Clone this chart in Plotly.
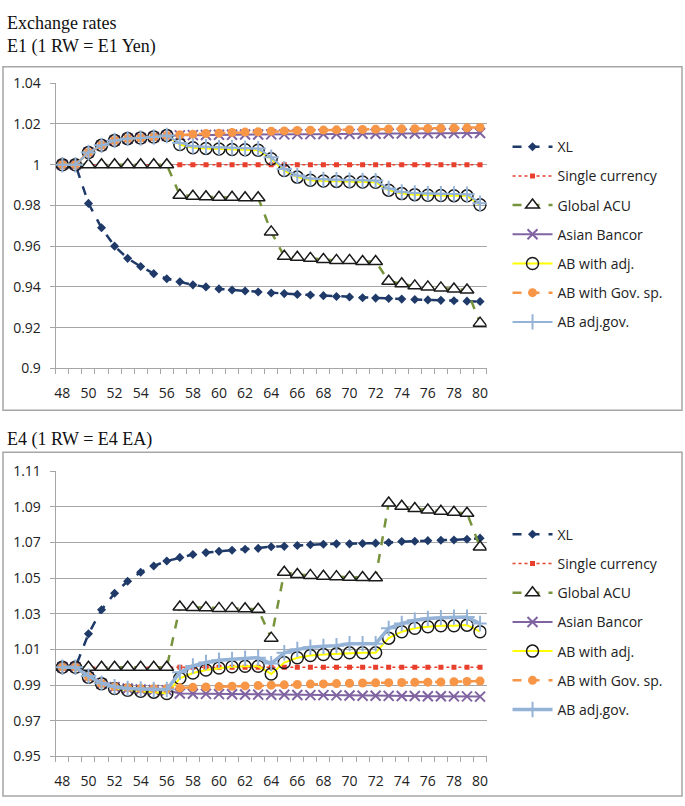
import plotly.graph_objects as go

years = list(range(48, 81))

# ---------- E1 (1 RW = E1 Yen) ----------
e1_xl = [1.0, 1.0, 0.981, 0.969, 0.960, 0.954, 0.950, 0.9465, 0.944, 0.9425, 0.941, 0.940, 0.939,
         0.9385, 0.938, 0.9375, 0.937, 0.9367, 0.9363, 0.936, 0.9357, 0.9353, 0.935, 0.9347, 0.9345,
         0.9343, 0.934, 0.9338, 0.9336, 0.9334, 0.9332, 0.933, 0.9328]
e1_single = [1.0] * 33
e1_acu = [1.0, 1.0, 1.0, 1.0, 1.0, 1.0, 1.0, 1.0, 1.0, 0.985, 0.9845, 0.9843, 0.984, 0.984, 0.9838,
          0.9838, 0.967, 0.955, 0.9545, 0.954, 0.9535, 0.953, 0.953, 0.9525, 0.9525, 0.9428, 0.9415,
          0.9405, 0.940, 0.9395, 0.939, 0.9385, 0.9222]
e1_bancor = [1.0, 1.0, 1.006, 1.0095, 1.0119, 1.0128, 1.0131, 1.0136, 1.0142, 1.0144, 1.0145,
             1.0146, 1.0147, 1.0147, 1.0148, 1.0148, 1.0149, 1.0149, 1.015, 1.015, 1.0151, 1.0151,
             1.0151, 1.0152, 1.0152, 1.0153, 1.0153, 1.0153, 1.0154, 1.0154, 1.0155, 1.0155, 1.0156]
e1_adj = [1.0, 1.0, 1.006, 1.0095, 1.0119, 1.0128, 1.0131, 1.0136, 1.0143, 1.0099, 1.0083, 1.008,
          1.0077, 1.0075, 1.0073, 1.0071, 1.0029, 0.9971, 0.9939, 0.9924, 0.992, 0.9918, 0.9916,
          0.9915, 0.9914, 0.9875, 0.9858, 0.9853, 0.985, 0.9849, 0.9848, 0.9847, 0.9803]
e1_gov = [1.0, 1.0, 1.006, 1.0095, 1.0119, 1.0128, 1.0131, 1.0136, 1.0143, 1.0147, 1.015, 1.0153,
          1.0155, 1.0158, 1.016, 1.0162, 1.0164, 1.0166, 1.0168, 1.0169, 1.017, 1.0171, 1.0172,
          1.0173, 1.0174, 1.0175, 1.0176, 1.0177, 1.0178, 1.0179, 1.018, 1.0181, 1.0183]
e1_adjgov = [1.0, 1.0, 1.006, 1.0095, 1.0119, 1.0128, 1.0131, 1.0136, 1.0143, 1.0107, 1.0091,
             1.0088, 1.0085, 1.0083, 1.0081, 1.0079, 1.0037, 0.9979, 0.9947, 0.9932, 0.9928,
             0.9926, 0.9924, 0.9923, 0.9922, 0.9883, 0.9866, 0.9861, 0.9858, 0.9857, 0.9856,
             0.9855, 0.9811]

# ---------- E4 (1 RW = E4 EA) ----------
e4_xl = [1.0, 1.0, 1.0187, 1.0322, 1.0415, 1.0482, 1.0533, 1.0568, 1.0596, 1.0616, 1.0632, 1.0643,
         1.065, 1.0656, 1.0662, 1.0667, 1.0676, 1.0678, 1.0683, 1.0687, 1.069, 1.0692, 1.0692,
         1.0694, 1.0696, 1.07, 1.0705, 1.0707, 1.071, 1.0712, 1.0714, 1.0718, 1.0724]
e4_single = [1.0] * 33
e4_acu = [1.0, 1.0, 1.0, 1.0, 1.0, 1.0, 1.0, 1.0, 1.0, 1.0338, 1.0335, 1.0333, 1.033, 1.033, 1.0328,
          1.0325, 1.0163, 1.0533, 1.052, 1.0515, 1.051, 1.0508, 1.0505, 1.0503, 1.0502, 1.0921,
          1.0903, 1.089, 1.0882, 1.0875, 1.0869, 1.0864, 1.0674]
e4_bancor = [1.0, 1.0, 0.9945, 0.9907, 0.9888, 0.988, 0.9875, 0.9872, 0.987, 0.9852, 0.9851,
             0.985, 0.9849, 0.9848, 0.9847, 0.9846, 0.9845, 0.9845, 0.9844, 0.9843, 0.9843,
             0.9842, 0.9841, 0.984, 0.984, 0.9839, 0.9838, 0.9838, 0.9837, 0.9837, 0.9836,
             0.9836, 0.9835]
e4_adj = [1.0, 1.0, 0.9944, 0.9907, 0.988, 0.9871, 0.9865, 0.986, 0.9852, 0.9938, 0.9967, 0.9984,
          0.9995, 1.0002, 1.0005, 1.0005, 0.9962, 1.0026, 1.0053, 1.0066, 1.0071, 1.0075, 1.0081,
          1.0081, 1.0081, 1.0163, 1.0199, 1.0218, 1.0227, 1.0232, 1.0232, 1.0236, 1.0199]
e4_gov = [1.0, 1.0, 0.9945, 0.9908, 0.989, 0.9885, 0.988, 0.988, 0.988, 0.9884, 0.9887, 0.9889,
          0.9891, 0.9893, 0.9895, 0.9897, 0.9899, 0.9901, 0.9903, 0.9905, 0.9906, 0.9908, 0.991,
          0.9911, 0.9912, 0.9913, 0.9914, 0.9915, 0.9916, 0.9917, 0.9918, 0.992, 0.9922]
e4_adjgov = [1.0, 1.0, 0.995, 0.991, 0.989, 0.988, 0.9878, 0.9875, 0.9875, 0.9971, 1.0007, 1.0026,
             1.0039, 1.0044, 1.005, 1.0053, 1.002, 1.0081, 1.01, 1.0112, 1.0117, 1.0121, 1.0132,
             1.0132, 1.0132, 1.0218, 1.0245, 1.0263, 1.0273, 1.0278, 1.0281, 1.0281, 1.0245]

x_ticks = list(range(48, 81, 2))
e1_yticks = [0.9, 0.92, 0.94, 0.96, 0.98, 1.0, 1.02, 1.04]
e1_ylabels = ["0.9", "0.92", "0.94", "0.96", "0.98", "1", "1.02", "1.04"]
e4_yticks = [0.95, 0.97, 0.99, 1.01, 1.03, 1.05, 1.07, 1.09, 1.11]
e4_ylabels = ["0.95", "0.97", "0.99", "1.01", "1.03", "1.05", "1.07", "1.09", "1.11"]

names = ["XL", "Single currency", "Global ACU", "Asian Bancor", "AB with adj.",
         "AB with Gov. sp.", "AB adj.gov."]

FONT = "Open Sans"
GRID = "#A6A6A6"

styles = [
    dict(line=dict(color="#1F3A68", width=2.5, dash="dash"),
         marker=dict(symbol="diamond", size=7, color="#1F3A68")),
    dict(line=dict(color="#E8402C", width=1.5, dash="dot"),
         marker=dict(symbol="square", size=5, color="#E8402C")),
    dict(line=dict(color="#77933C", width=2.5, dash="dash"),
         marker=dict(symbol="triangle-up", size=12, color="white",
                     line=dict(color="#1a1a1a", width=1.5))),
    dict(line=dict(color="#8064A2", width=2),
         marker=dict(symbol="x-thin", size=10, color="#8064A2",
                     line=dict(color="#8064A2", width=2))),
    dict(line=dict(color="#FFFF00", width=2),
         marker=dict(symbol="circle-open", size=12, color="#1a1a1a",
                     line=dict(color="#1a1a1a", width=1.5))),
    dict(line=dict(color="#F79646", width=2.5, dash="dash"),
         marker=dict(symbol="circle", size=9, color="#F79646")),
    dict(line=dict(color="#95B3D7", width=2),
         marker=dict(symbol="cross-thin", size=11, color="#95B3D7",
                     line=dict(color="#95B3D7", width=2))),
]

fig = go.Figure()

top_series = [e1_xl, e1_single, e1_acu, e1_bancor, e1_adj, e1_gov, e1_adjgov]
bot_series = [e4_xl, e4_single, e4_acu, e4_bancor, e4_adj, e4_gov, e4_adjgov]

for i, (nm, ys) in enumerate(zip(names, top_series)):
    st = styles[i]
    fig.add_trace(go.Scatter(x=years, y=ys, name=nm, mode="lines+markers",
                             line=st["line"], marker=st["marker"],
                             xaxis="x", yaxis="y", legend="legend",
                             legendgroup="t%d" % i))

for i, (nm, ys) in enumerate(zip(names, bot_series)):
    st = styles[i]
    line = dict(st["line"])
    if i == 6:
        line = dict(line, width=3.5)
    fig.add_trace(go.Scatter(x=years, y=ys, name=nm, mode="lines+markers",
                             line=line, marker=st["marker"],
                             xaxis="x2", yaxis="y2", legend="legend2",
                             legendgroup="b%d" % i))

W, H = 685, 806
x0, x1 = 55 / W, 487 / W

def xaxis_cfg(anchor):
    return dict(domain=[x0, x1], anchor=anchor, range=[47.5, 80.5],
                tickvals=x_ticks, ticktext=[str(v) for v in x_ticks],
                ticks="", showgrid=False, zeroline=False, ticklabelstandoff=12,
                showline=True, linecolor=GRID, linewidth=1.3,
                tickfont=dict(family=FONT, size=14, color="#222"),
                minor=dict(ticks="outside", ticklen=5, tickcolor=GRID,
                           tick0=47.5, dtick=1, showgrid=False))

def yaxis_cfg(anchor, dom, rng, tv, tt):
    return dict(domain=dom, anchor=anchor, range=rng, tickvals=tv, ticktext=tt,
                ticks="outside", ticklen=5, tickcolor=GRID, ticklabelstandoff=6,
                showgrid=True, gridcolor=GRID, gridwidth=1.3, zeroline=False,
                showline=True, linecolor=GRID, linewidth=1.3,
                tickfont=dict(family=FONT, size=14, color="#222"))

legend_common = dict(bgcolor="rgba(0,0,0,0)", font=dict(family=FONT, size=14, color="#222"),
                     tracegroupgap=8, itemwidth=40, xanchor="left", yanchor="top",
                     traceorder="grouped")

fig.update_layout(
    width=W, height=H, autosize=False,
    margin=dict(l=0, r=0, t=0, b=0),
    paper_bgcolor="white", plot_bgcolor="white",
    xaxis=xaxis_cfg("y"),
    yaxis=yaxis_cfg("x", [1 - 367 / H, 1 - 75 / H], [0.9, 1.04], e1_yticks, e1_ylabels),
    xaxis2=xaxis_cfg("y2"),
    yaxis2=yaxis_cfg("x2", [1 - 764.3 / H, 1 - 472.3 / H], [0.95, 1.11], e4_yticks, e4_ylabels),
    legend=dict(legend_common, x=508 / W, y=1 - 124 / H),
    legend2=dict(legend_common, x=508 / W, y=1 - 521 / H),
    showlegend=True,
    shapes=[
        dict(type="rect", xref="paper", yref="paper", x0=2 / W, x1=683 / W,
             y0=1 - 410 / H, y1=1 - 58 / H, line=dict(color="#A6A6A6", width=1.5)),
        dict(type="rect", xref="paper", yref="paper", x0=2 / W, x1=683 / W,
             y0=1 - 805 / H, y1=1 - 453 / H, line=dict(color="#A6A6A6", width=1.5)),
    ],
    annotations=[
        dict(text="Exchange rates", xref="paper", yref="paper", x=4 / W, y=1 - 13 / H,
             xanchor="left", yanchor="middle", showarrow=False,
             font=dict(family="Liberation Serif", size=18, color="#111")),
        dict(text="E1 (1 RW = E1 Yen)", xref="paper", yref="paper", x=4 / W, y=1 - 37 / H,
             xanchor="left", yanchor="middle", showarrow=False,
             font=dict(family="Liberation Serif", size=18, color="#111")),
        dict(text="E4 (1 RW = E4 EA)", xref="paper", yref="paper", x=4 / W, y=1 - 440 / H,
             xanchor="left", yanchor="middle", showarrow=False,
             font=dict(family="Liberation Serif", size=18, color="#111")),
    ],
)

reset_css = (
    "var s=document.createElement('style');"
    "s.textContent='html,body{margin:0;padding:0;overflow:hidden;}';"
    "document.head.appendChild(s);"
    "document.documentElement.style.margin='0';document.body.style.margin='0';"
)

fig.write_html("out.html", config={"displayModeBar": False}, post_script=reset_css)
